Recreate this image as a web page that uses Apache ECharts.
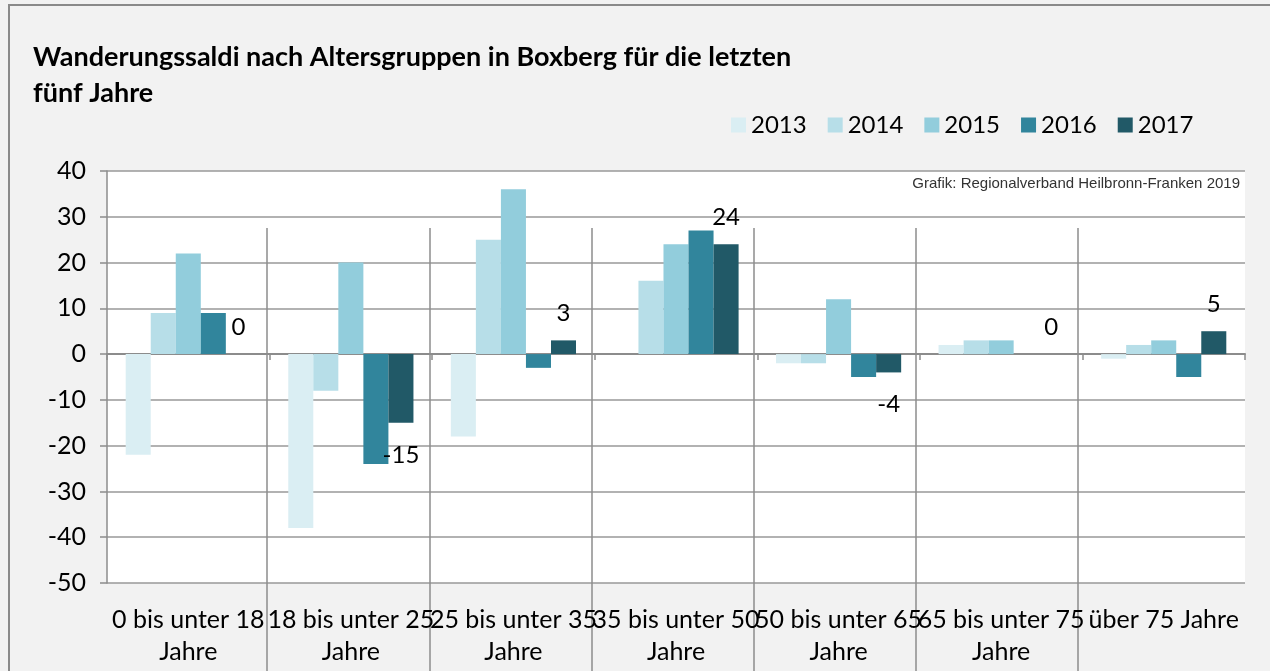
<!DOCTYPE html>
<html>
<head>
<meta charset="utf-8">
<script src="https://cdn.jsdelivr.net/npm/echarts@6/dist/echarts.min.js"></script>
<style>
  body { margin: 0; background: #f2f2f2; overflow: hidden; }
  #frame { position: absolute; left: 8px; top: 4px; width: 1300px; height: 700px; border: 2px solid #8a8a8a; }
  #main { position: absolute; left: 0; top: 0; width: 1270px; height: 671px; }
</style>
</head>
<body>
<div id="frame"></div>
<div id="main"></div>
<script>
  // Altersgruppen
  var categories = [
    '0 bis unter 18\nJahre',
    '18 bis unter 25\nJahre',
    '25 bis unter 35\nJahre',
    '35 bis unter 50\nJahre',
    '50 bis unter 65\nJahre',
    '65 bis unter 75\nJahre',
    'über 75 Jahre'
  ];
  var years = ['2013', '2014', '2015', '2016', '2017'];
  var colors = ['#daeef3', '#b7dee8', '#92cddc', '#31859c', '#215967'];

  var saldo2013 = [-22, -38, -18, 0, -2, 2, -1];
  var saldo2014 = [9, -8, 25, 16, -2, 3, 2];
  var saldo2015 = [22, 20, 36, 24, 12, 3, 3];
  var saldo2016 = [9, -24, -3, 27, -5, 0, -5];
  var saldo2017 = [0, -15, 3, 24, -4, 0, 5];

  var yTicks = { min: -50, max: 40, step: 10 };

  var font = 'Lato';
  var chart = echarts.init(document.getElementById('main'));

  function barSeries(i, data) {
    var s = {
      name: years[i],
      type: 'bar',
      xAxisIndex: 0,
      yAxisIndex: 0,
      barGap: '0%',
      barCategoryGap: '23%',
      itemStyle: { color: colors[i] },
      data: data
    };
    if (i === 4) {
      // nur 2017 beschriftet
      s.data = data.map(function (v) {
        return {
          value: v,
          label: v < 0 ? { position: 'bottom', distance: 20 } : { position: 'top', distance: 15 }
        };
      });
      s.label = {
        show: true,
        color: '#000',
        fontFamily: font,
        fontSize: 24
      };
    }
    return s;
  }

  chart.setOption({
    backgroundColor: 'transparent',
    animation: false,
    title: [{
      text: 'Wanderungssaldi nach Altersgruppen in Boxberg für die letzten\nfünf Jahre',
      left: 33,
      top: 39,
      padding: 0,
      textStyle: { fontFamily: font, fontWeight: 'bold', fontSize: 27, lineHeight: 36, color: '#000' }
    }, {
      text: 'Grafik: Regionalverband Heilbronn-Franken 2019',
      right: 30,
      top: 176,
      padding: 0,
      textStyle: { fontFamily: 'Liberation Sans', fontWeight: 'normal', fontSize: 15, color: '#333' }
    }],
    legend: {
      data: years,
      left: 731,
      top: 113,
      padding: 0,
      icon: 'rect',
      itemWidth: 15,
      itemHeight: 15,
      itemGap: 21,
      textStyle: { fontFamily: font, fontSize: 24, color: '#000' }
    },
    grid: [
      { left: 107, right: 25, top: 171, bottom: 88, show: true, backgroundColor: '#fff', borderWidth: 0 },
      { left: 105, right: 30, top: 228, bottom: 0 }
    ],
    xAxis: [{
      // Nulllinie mit Teilstrichen
      type: 'category',
      gridIndex: 0,
      data: categories,
      axisLine: { onZero: true, lineStyle: { color: '#8c8c8c', width: 2 } },
      axisTick: { show: true, length: 6, lineStyle: { color: '#8c8c8c', width: 1.5 } },
      axisLabel: { show: false },
      splitLine: { show: false }
    }, {
      // Beschriftung unten
      type: 'category',
      gridIndex: 0,
      position: 'bottom',
      data: categories,
      axisLine: { show: false, onZero: false },
      axisTick: { show: false },
      axisLabel: {
        interval: 0,
        hideOverlap: false,
        margin: 21,
        color: '#000',
        fontFamily: font,
        fontSize: 25,
        lineHeight: 32
      },
      splitLine: { show: false }
    }, {
      // senkrechte Trennlinien
      type: 'category',
      gridIndex: 1,
      data: categories,
      axisLine: { show: false },
      axisTick: { show: false },
      axisLabel: { show: false },
      splitLine: { show: true, showMinLine: false, showMaxLine: false, lineStyle: { color: '#8c8c8c', width: 1.5 } }
    }],
    yAxis: [{
      type: 'value',
      gridIndex: 0,
      min: yTicks.min,
      max: yTicks.max,
      interval: yTicks.step,
      axisLine: { show: true, lineStyle: { color: '#8c8c8c', width: 1.5 } },
      axisTick: { show: true, length: 7, lineStyle: { color: '#8c8c8c', width: 1.5 } },
      axisLabel: { margin: 21, color: '#000', fontFamily: font, fontSize: 25 },
      splitLine: { lineStyle: { color: '#999', width: 1.5 } }
    }, {
      type: 'value',
      gridIndex: 1,
      show: false
    }],
    series: [
      barSeries(0, saldo2013),
      barSeries(1, saldo2014),
      barSeries(2, saldo2015),
      barSeries(3, saldo2016),
      barSeries(4, saldo2017)
    ]
  });
</script>
</body>
</html>
